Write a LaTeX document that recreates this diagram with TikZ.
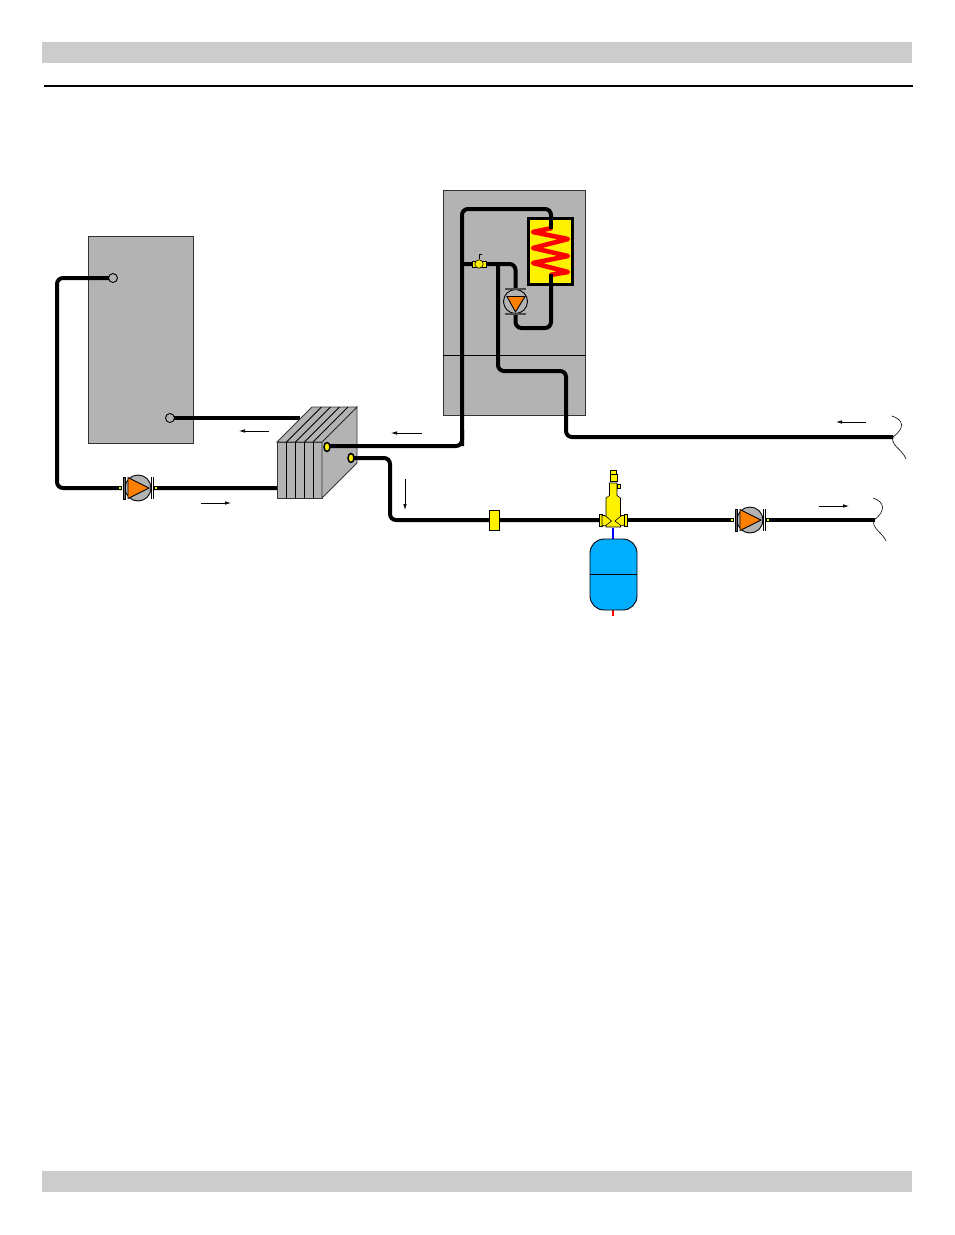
\documentclass[tikz,border=0pt]{standalone}
\usetikzlibrary{arrows.meta}
\definecolor{barfill}{HTML}{CCCCCC}
\definecolor{unitfill}{HTML}{B3B3B3}
\definecolor{pumporange}{HTML}{FF7F00}
\definecolor{tankblue}{HTML}{00AEFF}
\tikzset{
	pipe/.style={line width=4pt, rounded corners=6pt},
	flow/.style={line width=0.7pt, -{Latex[length=6pt,width=3.5pt]}},
	wiggle/.style={line width=0.6pt},
	unit/.style={draw=black!80, line width=0.9pt, fill=unitfill},
	brass/.style={fill=yellow, draw=black, line width=0.6pt},
}
% pump symbol on a level pipe
\def\pumpsym(#1){
	\begin{scope}[shift={(#1)}]
		\draw[pipe, rounded corners=0pt, white] (-16, 0) -- (16, 0);
		\draw[fill=unitfill, line width=0.9pt] (0, 0) circle (13);
		\draw[fill=pumporange, line width=0.9pt] (-10, -10.5) -- (11, 0) -- (-10, 10.5) -- cycle;
		\draw[fill=black!60, line width=0.5pt] (-15, -11) rectangle (-12.5, 11);
		\draw[line width=0.6pt] (13.5, -11) -- (13.5, 11);
		\draw[line width=0.6pt] (15.5, -11) -- (15.5, 11);
		\draw[yellow, line width=2pt] (-19.5, 0) -- (-17, 0);
		\draw[yellow, line width=2pt] (16.5, 0) -- (19, 0);
	\end{scope}
}
\begin{document}
\begin{tikzpicture}[x=1pt, y=-1pt]
	%%%%% PAGE %%%%%
	\useasboundingbox (0, 0) rectangle (954, 1235);
	\fill[barfill] (42, 42) rectangle (912, 63);
	\fill[barfill] (42, 1171) rectangle (912, 1192);
	\draw[line width=1.4pt] (44, 86) -- (913, 86);

	%%%%% STORAGE TANK %%%%%
	\draw[unit] (88, 236) rectangle (193, 443);
	\draw[pipe] (113, 278) -- (57, 278) -- (57, 488) -- (277, 488);
	\draw[pipe] (170, 418) -- (300, 418);
	\draw[fill=unitfill, line width=0.9pt] (113, 278) circle (4.5);
	\draw[fill=unitfill, line width=0.9pt] (170, 418) circle (4.5);
	\pumpsym(138, 488)

	%%%%% BOILER %%%%%
	\draw[unit] (443, 190) rectangle (585.5, 415.5);
	\draw[line width=0.9pt] (443, 355.5) -- (585.5, 355.5);

	\draw[pipe] (462, 446) -- (462, 209) -- (551, 209) -- (551, 230);
	\draw[pipe] (462, 264) -- (515.5, 264) -- (515.5, 328) -- (551, 328) -- (551, 270);
	\draw[pipe] (498, 264) -- (498, 371) -- (566, 371) -- (566, 437) -- (893, 437);

	\draw[fill=yellow, line width=3.4pt] (528.5, 218.5) rectangle (572.5, 284.5);
	\draw[red, line width=4.6pt, line join=round] (552, 228) -- (533, 232) -- (568, 239) -- (533, 248) -- (568, 256) -- (533, 263) -- (568, 272) -- (550, 275);
	\draw[pipe, rounded corners=0pt] (551, 219) -- (551, 229);
	\draw[pipe, rounded corners=0pt] (551, 274) -- (551, 284);

	\draw[line width=0.6pt] (479, 259) -- (479, 254.5) -- (482, 254.5);
	\draw[brass] (472, 261) rectangle (486, 267);
	\draw[brass] (479, 264) circle (4.2);

	\draw[fill=unitfill, line width=0.9pt] (515.5, 301.5) circle (12);
	\draw[fill=pumporange, line width=0.9pt] (507, 296.5) -- (525, 296.5) -- (515.5, 312) -- cycle;
	\draw[draw=black!70, line width=1.6pt] (505, 289) -- (526, 289);
	\draw[draw=black!70, line width=1.6pt] (505, 314) -- (526, 314);

	%%%%% HEAT EXCHANGER %%%%%
	\draw[unit] (277, 442) rectangle (322, 498);
	\draw[unit] (322, 442) -- (357, 407) -- (357, 463) -- (322, 498) -- cycle;
	\draw[unit] (277, 442) -- (312, 407) -- (357, 407) -- (322, 442) -- cycle;
	\foreach \px in {286.5, 295.5, 304.5, 313} {
		\draw[line width=0.9pt] (\px, 442) -- (\px, 498);
		\draw[line width=0.9pt] (\px, 442) -- (\px+35, 407);
	}

	\draw[pipe] (327, 446) -- (462, 446) -- (462, 430);
	\draw[pipe] (351, 458) -- (390, 458) -- (390, 520) -- (600, 520);
	\draw[pipe] (625, 520) -- (875, 520);
	\draw[fill=yellow, line width=1.5pt] (327, 447) ellipse (3 and 4.5);
	\draw[fill=yellow, line width=1.5pt] (351, 458) ellipse (3 and 4.5);

	%%%%% LOAD SIDE %%%%%
	\draw[fill=yellow, line width=0.5pt] (489, 510) rectangle (499, 530);
	\pumpsym(750, 520)

	\draw[blue, line width=1.2pt] (613, 528) -- (613, 540);
	\draw[red, line width=1.4pt] (613, 610) -- (613, 615.5);
	\draw[fill=tankblue, line width=0.9pt, rounded corners=14pt] (590, 539) rectangle (637, 610);
	\draw[line width=0.9pt] (590, 574) -- (637, 574);

	\draw[brass] (606, 498) -- (609.5, 495.5) -- (609.5, 483) -- (617, 483) -- (617, 495.5) -- (620.5, 498) -- (620.5, 527) -- (606, 527) -- cycle;
	\draw[brass] (617, 484.5) rectangle (620.5, 488);
	\draw[brass] (610, 474) rectangle (617, 481);
	\draw[brass] (610.5, 470) rectangle (616, 474);
	\draw[brass] (599.5, 514) rectangle (602, 526);
	\draw[brass] (624.5, 514) rectangle (627, 526);
	\draw[brass] (602, 515.5) -- (605, 515.5) -- (611.5, 521) -- (605, 526) -- (602, 525) -- cycle;
	\draw[brass] (624.5, 515.5) -- (621.5, 515.5) -- (615, 521) -- (621.5, 526) -- (624.5, 525) -- cycle;

	%%%%% FLOW ARROWS %%%%%
	\draw[flow] (269, 431) -- (239, 431);
	\draw[flow] (201, 503) -- (231, 503);
	\draw[flow] (422, 433) -- (391, 433);
	\draw[flow] (405, 479) -- (405, 510);
	\draw[flow] (866, 422) -- (836, 422);
	\draw[flow] (819, 506) -- (849, 506);

	%%%%% PIPE BREAKS %%%%%
	\draw[wiggle] (892, 416) .. controls (904, 420) and (905, 428) .. (893, 437) .. controls (890, 445) and (903, 450) .. (906, 459);
	\draw[wiggle] (873, 498) .. controls (885, 502) and (886, 511) .. (874, 520) .. controls (871, 528) and (883, 533) .. (886, 541);
\end{tikzpicture}
\end{document}
